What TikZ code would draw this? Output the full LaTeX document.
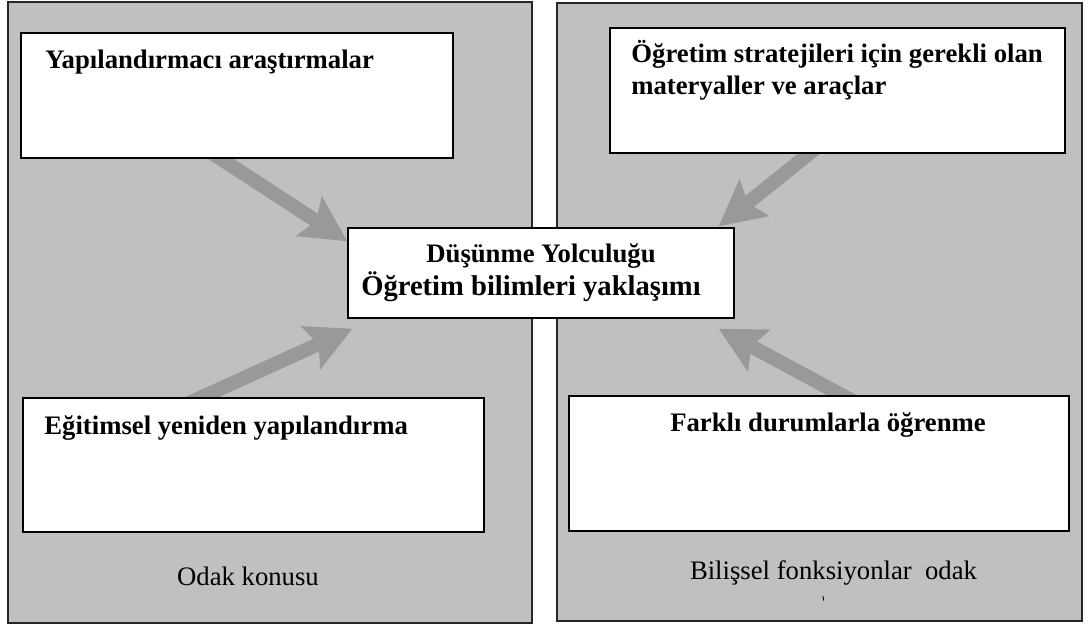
\documentclass[tikz,border=0pt]{standalone}
\usepackage{fontspec}
\setmainfont{Liberation Serif}
\usetikzlibrary{arrows.meta,calc}
\definecolor{panelgray}{HTML}{C0C0C0}
\definecolor{arrowgray}{HTML}{999999}
\pgfdeclarelayer{panels}
\pgfdeclarelayer{arrowlayer}
\pgfsetlayers{panels,arrowlayer,main}
\tikzset{
  panel/.style={draw=black!85, line width=1.5pt, fill=panelgray, inner sep=0pt, rectangle},
  box/.style={draw=black, line width=1.6pt, fill=white, inner sep=0pt, rectangle},
  boldtxt/.style={font=\fontsize{26.7}{33}\selectfont\bfseries, inner sep=0pt},
  plaintxt/.style={font=\fontsize{26.7}{33}\selectfont, inner sep=0pt},
  bigarrow/.style={draw=arrowgray, line width=14pt,
    -{Stealth[length=46pt, width=48pt, inset=9pt, line width=0pt]}}
}
\begin{document}
\begin{tikzpicture}[x=1pt, y=-1pt]
\useasboundingbox (0,0) rectangle (1089,626);

% panels
\begin{pgfonlayer}{panels}
\fill[white] (0,0) rectangle (1089,626);
\node[panel, minimum width=524pt, minimum height=621pt] (lp) at (270,312.5) {};
\node[panel, minimum width=525pt, minimum height=618pt] (rp) at (819.5,312) {};
\end{pgfonlayer}

% boxes
\node[box, minimum width=432pt, minimum height=125pt] (b1) at (237,95.5) {};
\node[box, minimum width=455pt, minimum height=125pt] (b2) at (837.5,90.5) {};
\node[box, minimum width=461pt, minimum height=134pt] (b3) at (253.5,465) {};
\node[box, minimum width=500pt, minimum height=135pt] (b4) at (819,463.5) {};
\node[box, boldtxt, align=center, minimum width=386pt, minimum height=90pt] (c) at (541,273)
  {Düşünme Yolculuğu\\{\fontsize{28.6}{33}\selectfont Öğretim bilimleri yaklaşımı\hspace*{20pt}}};

% box texts
\node[boldtxt, anchor=base west] (t1) at ($(b1.north west)+(25,36)$) {Yapılandırmacı araştırmalar};
\node[boldtxt, anchor=base west] (t2a) at ($(b2.north west)+(22,35)$) {Öğretim stratejileri için gerekli olan};
\node[boldtxt, anchor=base west] (t2b) at ($(b2.north west)+(22,67)$) {materyaller ve araçlar};
\node[boldtxt, anchor=base west] (t3) at ($(b3.north west)+(22,37)$) {Eğitimsel yeniden yapılandırma};
\node[boldtxt, anchor=base] (t4) at ($(b4.north)+(9,36)$) {Farklı durumlarla öğrenme};

% panel captions
\node[plaintxt, anchor=base] (lcap) at (248,585) {Odak konusu};
\node[plaintxt, anchor=base] (rcap) at (833.5,579) {Bilişsel fonksiyonlar~ odak};
\coordinate (tickA) at (823,596);
\coordinate (tickB) at (823.6,600.5);
\draw[line width=0.9pt] (tickA) -- (tickB);

% arrows
\begin{pgfonlayer}{arrowlayer}
\draw[bigarrow] ($(b1.south west)+(173,-18)$) -- ($(c.north west)+(0,14)$);
\draw[bigarrow] ($(b3.north west)+(140,18)$) -- ($(c.south west)+(5,10)$);
\draw[bigarrow] ($(b2.south west)+(222,-18)$) -- ($(c.north east)+(-16,-1)$);
\draw[bigarrow] ($(b4.north west)+(307,18)$) -- ($(c.south east)+(-16,10)$);
\end{pgfonlayer}
\end{tikzpicture}
\end{document}
